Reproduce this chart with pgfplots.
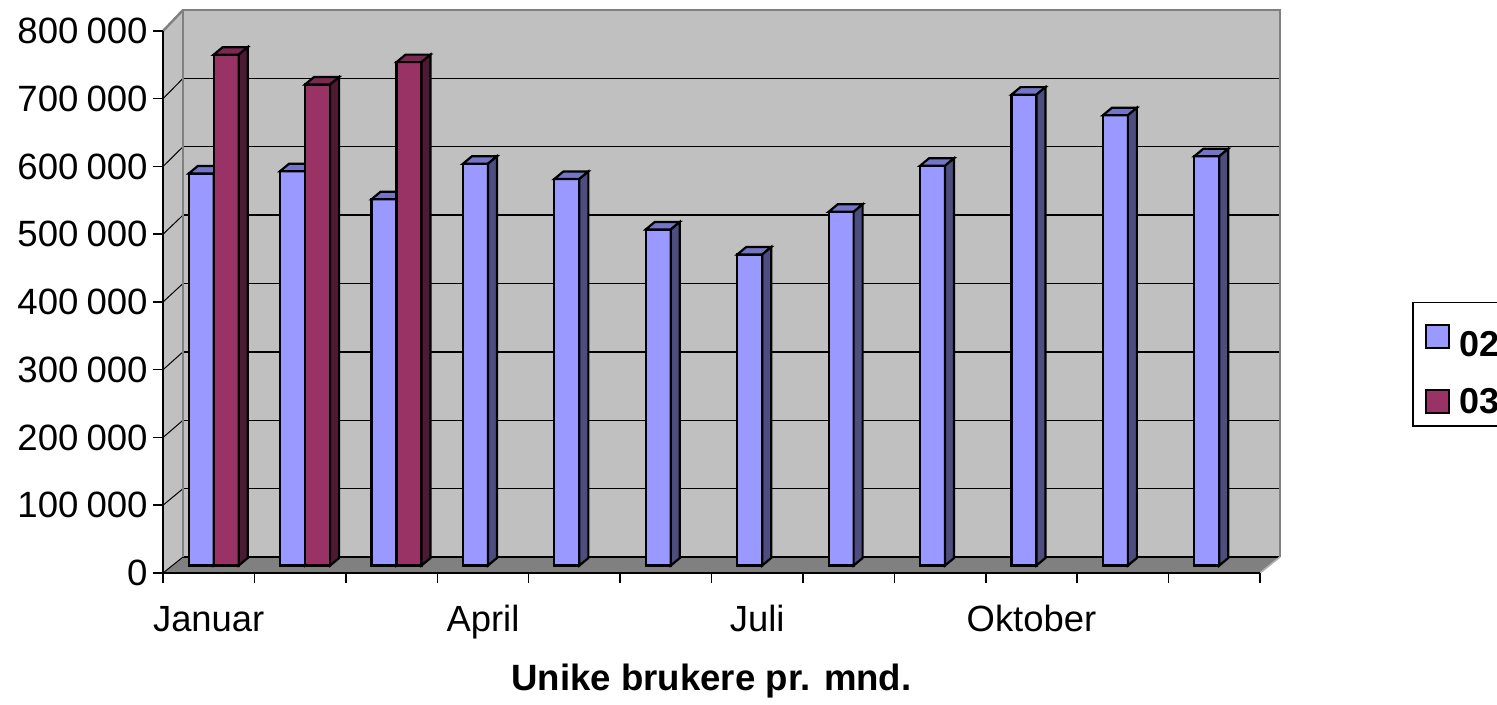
\documentclass[border=0pt]{standalone}
\usepackage{fontspec}
\setmainfont{Liberation Sans}
\usepackage{pgfplots}
\usepackage{pgfplotstable}
\pgfplotsset{compat=1.18}
\definecolor{c02}{HTML}{9999FF}
\definecolor{c02top}{HTML}{7575C8}
\definecolor{c02side}{HTML}{4D4D80}
\definecolor{c03}{HTML}{993366}
\definecolor{c03top}{HTML}{7A2952}
\definecolor{c03side}{HTML}{4D1A33}
\definecolor{wall}{HTML}{C0C0C0}
\definecolor{floorc}{HTML}{808080}

% month index, users 2002 / 2003
\pgfplotstableread{
m a
1 578500
2 582000
3 540500
4 593000
5 570500
6 496000
7 459000
8 522000
9 590000
10 695000
11 664500
12 604000
}\tabA
\pgfplotstableread{
m b
1 754000
2 710000
3 743000
}\tabB

% 3D top and side faces of a bar (origin = data point on the front plane)
\newcommand\barfaces[4]{% #1 left x, #2 right x, #3 top colour, #4 side colour
  \edef\hh{\fpeval{(\bv)*271/800000}}%
  \pgfsetlinewidth{1.1pt}\pgfsetstrokecolor{black}\pgfsetmiterjoin
  \pgfpathmoveto{\pgfpoint{#1}{3.75pt}}%
  \pgfpathlineto{\pgfpointadd{\pgfpoint{#1}{3.75pt}}{\pgfpoint{4.5pt}{3.75pt}}}%
  \pgfpathlineto{\pgfpointadd{\pgfpoint{#2}{3.75pt}}{\pgfpoint{4.5pt}{3.75pt}}}%
  \pgfpathlineto{\pgfpoint{#2}{3.75pt}}%
  \pgfpathclose
  \pgfsetfillcolor{#3}\pgfusepath{fill,stroke}%
  \pgfpathmoveto{\pgfpoint{#2}{3.75pt}}%
  \pgfpathlineto{\pgfpointadd{\pgfpoint{#2}{3.75pt}}{\pgfpoint{4.5pt}{3.75pt}}}%
  \pgfpathlineto{\pgfpointadd{\pgfpoint{#2}{3.75pt}}{\pgfpoint{4.5pt}{3.75pt-\hh pt}}}%
  \pgfpathlineto{\pgfpoint{#2}{3.75pt-\hh pt}}%
  \pgfpathclose
  \pgfsetfillcolor{#4}\pgfusepath{fill,stroke}%
}
\pgfdeclareplotmark{bar02}{\barfaces{-10pt}{2.5pt}{c02top}{c02side}}
\pgfdeclareplotmark{bar03}{\barfaces{2.5pt}{15pt}{c03top}{c03side}}

\begin{document}
\begin{tikzpicture}
\begin{axis}[
  scale only axis, width=548.5pt, height=271pt,
  xmin=0.5, xmax=12.5, ymin=0, ymax=800000,
  clip=false, clip marker paths=true, axis on top,
  scaled y ticks=false,
  axis x line=bottom, axis y line=left,
  axis line style={-, line width=0.75pt, black},
  tick align=outside, major tick length=5pt,
  tick style={line width=0.75pt, black},
  xtick={0.5,1.5,2.5,3.5,4.5,5.5,6.5,7.5,8.5,9.5,10.5,11.5,12.5},
  xticklabels={},
  extra x ticks={1,4,7,10},
  extra x tick labels={Januar,April,Juli,Oktober},
  extra x tick style={major tick length=0pt},
  xticklabel style={anchor=base, inner sep=0pt, yshift=-29pt, font=\fontsize{18.2}{22}\selectfont},
  ytick={0,100000,200000,300000,400000,500000,600000,700000,800000},
  yticklabels={0,100\hspace{0.22em}000,200\hspace{0.22em}000,300\hspace{0.22em}000,400\hspace{0.22em}000,500\hspace{0.22em}000,600\hspace{0.22em}000,700\hspace{0.22em}000,800\hspace{0.22em}000},
  yticklabel style={anchor=east, inner sep=0pt, xshift=-2.5pt, font=\fontsize{18.3}{22}\selectfont},
  xlabel={Unike brukere pr. mnd.},
  xlabel style={at={(axis description cs:0.5,0)}, anchor=base, yshift=-58.5pt, inner sep=0pt, font=\bfseries\fontsize{18.3}{22}\selectfont},
  legend cell align=left,
  legend style={at={(axis description cs:1.1386,0.5)}, anchor=north west, draw=black, line width=0.75pt,
    font=\bfseries\fontsize{18}{20}\selectfont, inner xsep=6pt, inner ysep=6pt, row sep=15.5pt,
    nodes={inner ysep=0pt, text depth=0pt}},
]
% walls and floor
\fill[wall] ([shift={(10pt,8pt)}]rel axis cs:0,0) rectangle ([shift={(10pt,10.5pt)}]rel axis cs:1,1);
\fill[wall] (rel axis cs:0,0) -- (rel axis cs:0,1) -- ([shift={(10pt,10.5pt)}]rel axis cs:0,1) -- ([shift={(10pt,8pt)}]rel axis cs:0,0) -- cycle;
\fill[floorc] (rel axis cs:0,0) -- (rel axis cs:1,0) -- ([shift={(10pt,8pt)}]rel axis cs:1,0) -- ([shift={(10pt,8pt)}]rel axis cs:0,0) -- cycle;
\pgfplotsinvokeforeach{0,0.125,0.25,0.375,0.5,0.625,0.75,0.875}{
  \draw[black, line width=0.7pt] ([shift={(10pt,{8pt+#1*2.5pt})}]rel axis cs:0,#1) -- ([shift={(10pt,{8pt+#1*2.5pt})}]rel axis cs:1,#1);
  \draw[black, line width=0.5pt] (rel axis cs:0,#1) -- ([shift={(10pt,{8pt+#1*2.5pt})}]rel axis cs:0,#1);
}
\draw[floorc, line width=1.2pt] ([shift={(10pt,8pt)}]rel axis cs:0,0) -- ([shift={(10pt,10.5pt)}]rel axis cs:0,1) -- ([shift={(10pt,10.5pt)}]rel axis cs:1,1) -- ([shift={(10pt,8pt)}]rel axis cs:1,0);
\draw[floorc, line width=1.2pt] (rel axis cs:0,1) -- ([shift={(10pt,10.5pt)}]rel axis cs:0,1);
\draw[gray!60, line width=0.8pt] (rel axis cs:1,0) -- ([shift={(10pt,8pt)}]rel axis cs:1,0);

% 2002
\addplot[ybar, bar width=12.5pt, bar shift=-3.75pt, yshift=3.75pt, fill=c02, draw=black, line width=1.1pt,
  legend image code/.code={\filldraw[fill=c02, draw=black, line width=1pt] (0pt,-9.75pt) rectangle (11.5pt,1.75pt);}]
  table[x=m, y=a] {\tabA};
\addlegendentry{\rule{0pt}{21pt}\hspace{3pt}02}
\addplot[only marks, mark=bar02, forget plot, visualization depends on={rawy \as\bv}]
  table[x=m, y=a] {\tabA};
% 2003
\addplot[ybar, bar width=12.5pt, bar shift=8.75pt, yshift=3.75pt, fill=c03, draw=black, line width=1.1pt,
  legend image code/.code={\filldraw[fill=c03, draw=black, line width=1pt] (0pt,-9.75pt) rectangle (11.5pt,1.75pt);}]
  table[x=m, y=b] {\tabB};
\addlegendentry{\rule{0pt}{13pt}\hspace{3pt}03}
\addplot[only marks, mark=bar03, forget plot, visualization depends on={rawy \as\bv}]
  table[x=m, y=b] {\tabB};
\end{axis}
\pgfresetboundingbox
\path (-81.5pt,-66pt) rectangle (667pt,286.5pt);
\end{tikzpicture}
\end{document}
